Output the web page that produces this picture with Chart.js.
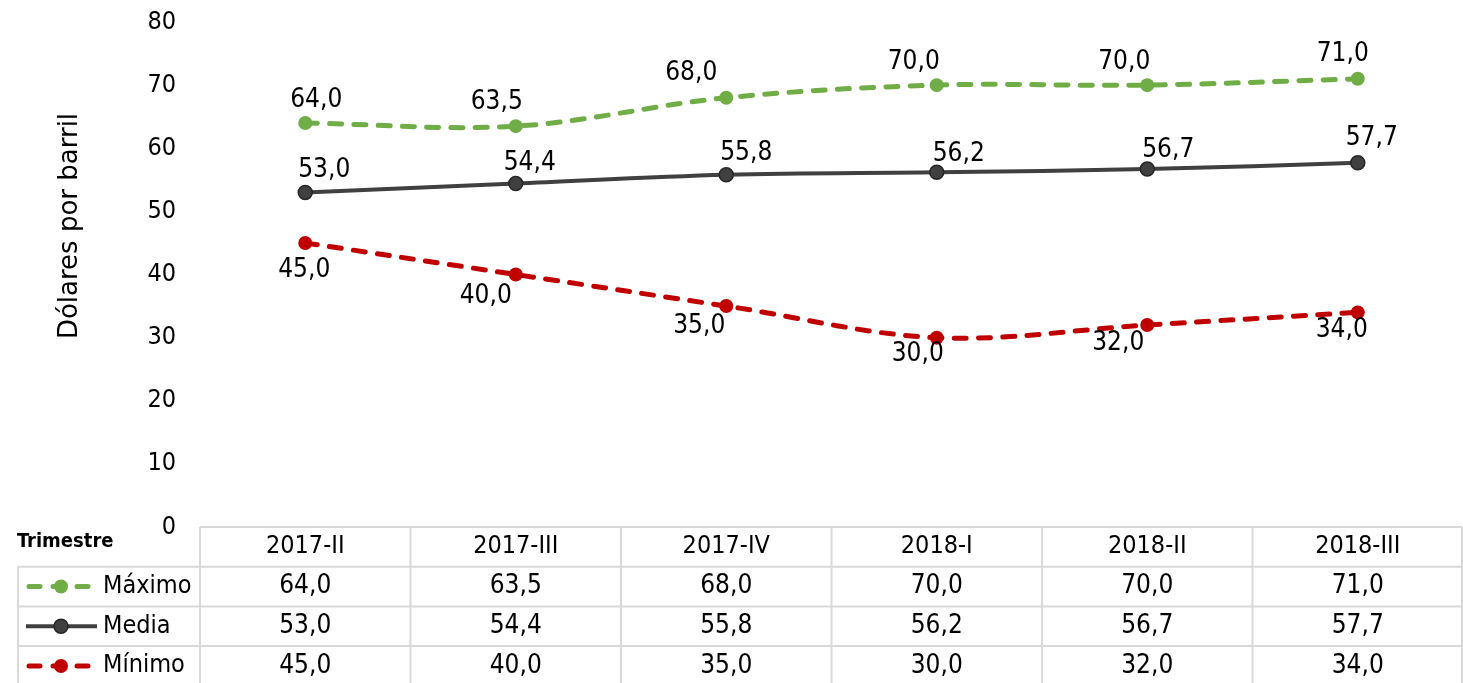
<!DOCTYPE html>
<html><head><meta charset="utf-8">
<script src="https://cdn.jsdelivr.net/npm/chart.js@4.4.1/dist/chart.umd.min.js"></script>
<style>html,body{margin:0;padding:0;background:#fff;overflow:hidden}#wrap{position:relative;width:1463px;height:683px}</style>
</head><body><div id="wrap"><canvas id="c" width="1463" height="683"></canvas></div>
<script>
const categories = ['2017-II','2017-III','2017-IV','2018-I','2018-II','2018-III'];
const maximo = [64.0, 63.5, 68.0, 70.0, 70.0, 71.0];
const media  = [53.0, 54.4, 55.8, 56.2, 56.7, 57.7];
const minimo = [45.0, 40.0, 35.0, 30.0, 32.0, 34.0];
const seriesNames = ['Máximo', 'Media', 'Mínimo'];
const yTicks = [0, 10, 20, 30, 40, 50, 60, 70, 80];
const axisTitle = 'Dólares por barril';
const tableHeader = 'Trimestre';

const FONT = "'DejaVu Sans Condensed', 'DejaVu Sans', sans-serif";
const TITLE_FONT = "'DejaVu Sans', sans-serif";
const colors = ['#70AD47', '#404040', '#C00000'];
const fmt = v => v.toFixed(1).replace('.', ',');
const DASH = [12, 12.3];

// label offsets (style only)
const labelOffsets = [
  {dx:[11,-19,-35,-23,-23,-15], dy:[-23,-24,-25,-23,-23,-25]},
  {dx:[19,14,20,22,21,14],       dy:[-22,-20,-22,-18,-19,-25]},
  {dx:[-1,-30,-27,-19,-29,-16],  dy:[27,22,20,17,18,18]}
];

const labelPlugin = {
  id: 'dlabels',
  afterDatasetsDraw(chart) {
    const ctx = chart.ctx;
    ctx.save();
    ctx.font = "26px " + FONT;
    ctx.fillStyle = '#000';
    ctx.textAlign = 'center';
    ctx.textBaseline = 'middle';
    chart.data.datasets.forEach((ds, di) => {
      const meta = chart.getDatasetMeta(di);
      meta.data.forEach((pt, i) => {
        const o = labelOffsets[di];
        ctx.fillText(fmt(ds.data[i]), pt.x + o.dx[i], pt.y + o.dy[i]);
      });
    });
    ctx.restore();
  }
};

const titlePlugin = {
  id: 'ytitle',
  afterDraw(chart) {
    const ctx = chart.ctx;
    ctx.save();
    ctx.translate(70, 226);
    ctx.rotate(-Math.PI / 2);
    ctx.font = "26px " + TITLE_FONT;
    ctx.fillStyle = '#000';
    ctx.textAlign = 'center';
    ctx.textBaseline = 'middle';
    ctx.fillText(axisTitle, 0, 0);
    ctx.restore();
  }
};

const tablePlugin = {
  id: 'dtable',
  afterDraw(chart) {
    const ctx = chart.ctx;
    const ca = chart.chartArea;
    const xs = chart.scales.x;
    const n = categories.length;
    const w = (ca.right - ca.left) / n;
    const top = ca.bottom;
    const rh = 39.7;
    const legLeft = 18;
    const rightEdge = ca.right - 1;
    const bottom = top + rh * 4;
    ctx.save();
    ctx.strokeStyle = '#D9D9D9';
    ctx.lineWidth = 2;
    ctx.beginPath();
    ctx.moveTo(ca.left, top); ctx.lineTo(rightEdge, top);
    for (let r = 1; r <= 4; r++) {
      ctx.moveTo(legLeft, top + rh * r); ctx.lineTo(rightEdge, top + rh * r);
    }
    for (let k = 0; k <= n; k++) {
      const x = Math.min(ca.left + k * w, rightEdge);
      ctx.moveTo(x, top); ctx.lineTo(x, bottom);
    }
    ctx.moveTo(legLeft, top + rh); ctx.lineTo(legLeft, bottom);
    ctx.stroke();

    ctx.fillStyle = '#000';
    ctx.textBaseline = 'middle';
    ctx.textAlign = 'left';
    ctx.font = "bold 20px " + FONT;
    ctx.fillText(tableHeader, 17, top + 15);

    ctx.textAlign = 'center';
    ctx.font = "25px " + FONT;
    categories.forEach((c, i) => {
      ctx.fillText(c, xs.getPixelForValue(i), top + rh / 2);
    });
    ctx.font = "26px " + FONT;
    chart.data.datasets.forEach((ds, di) => {
      const y = top + rh * (di + 1) + rh / 2;
      ds.data.forEach((v, i) => {
        ctx.fillText(fmt(v), xs.getPixelForValue(i), y);
      });
      // legend key
      ctx.save();
      ctx.strokeStyle = ds.borderColor;
      ctx.lineWidth = ds.borderWidth;
      if (ds.borderDash && ds.borderDash.length) {
        ctx.lineCap = 'round';
        ctx.setLineDash([11, 13]);
        ctx.beginPath(); ctx.moveTo(29, y); ctx.lineTo(92, y); ctx.stroke();
      } else {
        ctx.beginPath(); ctx.moveTo(26, y); ctx.lineTo(97, y); ctx.stroke();
      }
      ctx.setLineDash([]);
      ctx.beginPath(); ctx.arc(61, y, 7, 0, Math.PI * 2);
      ctx.fillStyle = ds.pointBackgroundColor;
      ctx.fill();
      if (ds.pointBorderWidth) { ctx.lineWidth = ds.pointBorderWidth; ctx.strokeStyle = ds.pointBorderColor; ctx.stroke(); }
      ctx.restore();
      ctx.fillStyle = '#000';
      ctx.textAlign = 'left';
      ctx.font = "25px " + FONT;
      ctx.fillText(seriesNames[di], 103, y);
      ctx.font = "26px " + FONT;
      ctx.textAlign = 'center';
    });
    ctx.restore();
  }
};

const mkDs = (label, data, color, width, dash, pbc, pbw) => ({
  label, data,
  borderColor: color, backgroundColor: color,
  borderWidth: width, borderDash: dash, borderCapStyle: dash.length ? 'round' : 'butt',
  pointRadius: 7, pointHoverRadius: 7,
  pointBackgroundColor: color, pointBorderColor: pbc || color, pointBorderWidth: pbw || 0,
  tension: 0.35, fill: false
});

new Chart(document.getElementById('c'), {
  type: 'line',
  data: {
    labels: categories,
    datasets: [
      mkDs(seriesNames[0], maximo, colors[0], 5, DASH),
      mkDs(seriesNames[1], media, colors[1], 4, [], '#262626', 1.5),
      mkDs(seriesNames[2], minimo, colors[2], 5, DASH)
    ]
  },
  options: {
    responsive: false,
    animation: false,
    devicePixelRatio: 1,
    layout: { autoPadding: false, padding: { top: 22, bottom: 156, left: 0, right: 0 } },
    plugins: { legend: { display: false }, tooltip: { enabled: false } },
    scales: {
      x: { type: 'category', offset: true, display: false },
      y: {
        min: 0, max: 80,
        afterBuildTicks(s) { s.ticks = yTicks.map(v => ({ value: v })); },
        ticks: { font: { family: FONT, size: 25 }, color: '#000', padding: 24 },
        grid: { display: false, drawTicks: false },
        border: { display: false },
        afterFit(s) { s.width = 200; s.paddingTop = 0; s.paddingBottom = 0; }
      }
    }
  },
  plugins: [labelPlugin, titlePlugin, tablePlugin]
});
</script>
</body></html>
